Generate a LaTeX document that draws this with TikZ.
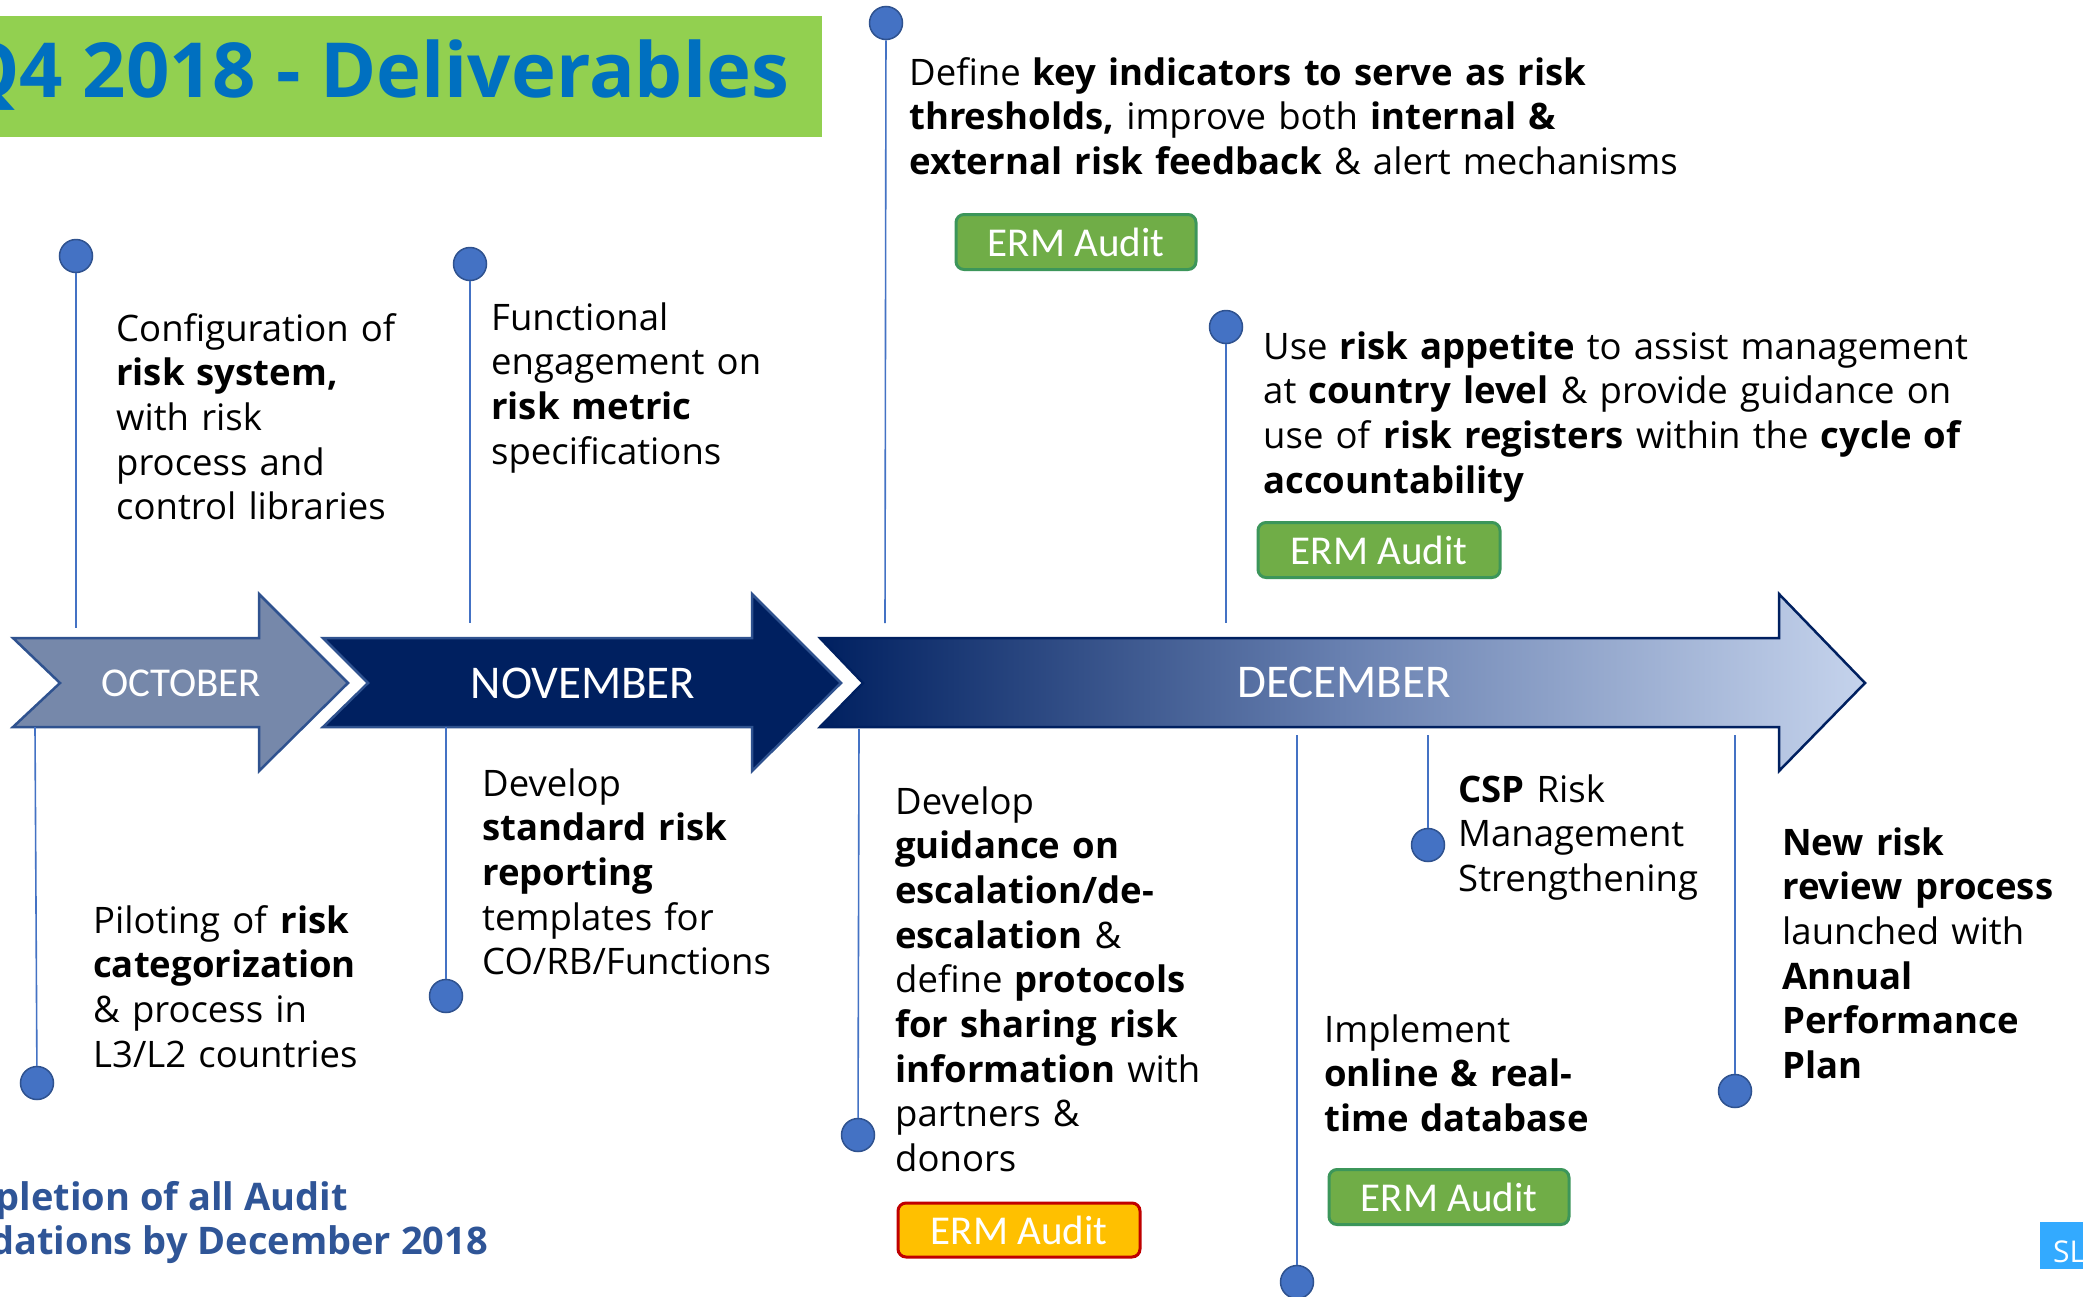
\documentclass[tikz,border=0pt]{standalone}
\usepackage{fontspec}
\setmainfont{Open Sans}
\newfontfamily\calfont{Carlito}
\definecolor{octfill}{RGB}{118,136,170}
\definecolor{navy}{RGB}{0,32,96}
\definecolor{declight}{RGB}{197,211,236}
\definecolor{decmid}{RGB}{104,128,176}
\definecolor{arrowedge}{RGB}{47,82,143}
\definecolor{dotfill}{RGB}{68,114,196}
\definecolor{dotedge}{RGB}{47,82,143}
\definecolor{ermgreen}{RGB}{112,173,71}
\definecolor{ermgreenedge}{RGB}{60,150,90}
\definecolor{ermorange}{RGB}{255,192,0}
\definecolor{ermred}{RGB}{192,0,0}
\definecolor{titlegreen}{RGB}{146,208,80}
\definecolor{titleblue}{RGB}{0,112,192}
\definecolor{notebl}{RGB}{47,85,151}
\definecolor{slblue}{RGB}{51,170,255}
\begin{document}
\begin{tikzpicture}[x=1pt,y=-1pt,
  body/.style={anchor=base west, inner sep=0pt, text width=900pt, align=left,
    font=\fontsize{36.5}{44.7}\selectfont, text=black},
  month/.style={anchor=base, inner sep=0pt, text=white},
  dot/.style={circle, fill=dotfill, draw=dotedge, line width=1.5pt, minimum size=33pt, inner sep=0pt},
  stem/.style={draw=dotfill, line width=1.6pt},
  ermbox/.style={rounded corners=8pt, line width=3pt, text=white, inner sep=0pt,
    font=\calfont\fontsize{41}{41}\selectfont},
  ermg/.style={ermbox, fill=ermgreen, draw=ermgreenedge},
  ermo/.style={ermbox, fill=ermorange, draw=ermred}]
\useasboundingbox (0,0) rectangle (2083,1296);
\fill[white] (0,0) rectangle (2083,1296);

% title
\fill[titlegreen] (0,16) rectangle (822,137);
\node[anchor=base east, inner sep=0pt, text=titleblue,
  font=\bfseries\fontsize{76}{76}\selectfont] (title) at (789,97) {Q4 2018 - Deliverables};

% arrows
\draw[fill=octfill, draw=arrowedge, line width=2.5pt, line join=miter]
  (13,638) -- (259,638) -- (259,594) -- (348,683) -- (259,771) -- (259,727) -- (13,727) -- (60,683) -- cycle;
\draw[fill=navy, draw=arrowedge, line width=2.5pt, line join=miter]
  (323,638) -- (752,638) -- (752,594) -- (841,683) -- (752,771) -- (752,727) -- (323,727) -- (368,683) -- cycle;
\draw[left color=navy, right color=declight, middle color=decmid, draw=navy, line width=2.5pt, line join=miter]
  (820,638) -- (1779,638) -- (1779,594) -- (1865,683) -- (1779,771) -- (1779,727) -- (820,727) -- (863,683) -- cycle;

\node[month, font=\calfont\fontsize{41}{41}\selectfont] (oct) at (181,696) {OCTOBER};
\node[month, font=\calfont\fontsize{47}{47}\selectfont] (nov) at (583,698) {NOVEMBER};
\node[month, font=\calfont\fontsize{47}{47}\selectfont] (dec) at (1344,697) {DECEMBER};

% stems above the arrow
\coordinate (e1) at (76,628);
\coordinate (e2) at (470,623);
\coordinate (e3) at (885,623);
\coordinate (e4) at (1226,623);
% stems below the arrow
\coordinate (s5) at (35,727);
\coordinate (s6) at (446,727);
\coordinate (s7) at (859,729);
\coordinate (s8) at (1297,735);
\coordinate (s9) at (1428,735);
\coordinate (s10) at (1735,735);

\node[dot] (d1) at (76,256) {};
\node[dot] (d2) at (470,264) {};
\node[dot] (d3) at (886,23) {};
\node[dot] (d4) at (1226,327) {};
\node[dot] (d5) at (37,1083) {};
\node[dot] (d6) at (446,996) {};
\node[dot] (d7) at (858,1135) {};
\node[dot] (d8) at (1297,1282) {};
\node[dot] (d9) at (1428,845) {};
\node[dot] (d10) at (1735,1091) {};

\draw[stem] (d1) -- (e1);
\draw[stem] (d2) -- (e2);
\draw[stem] (d3) -- (e3);
\draw[stem] (d4) -- (e4);
\draw[stem] (s5) -- (d5);
\draw[stem] (s6) -- (d6);
\draw[stem] (s7) -- (d7);
\draw[stem] (s8) -- (d8);
\draw[stem] (s9) -- (d9);
\draw[stem] (s10) -- (d10);

% texts
\node[body] (t1) at (116,341) {Configuration of\\ \textbf{risk system,}\\ with risk\\ process and\\ control libraries};
\node[body] (t2) at (491,330) {Functional\\ engagement on\\ \textbf{risk metric}\\ specifications};
\node[body] (t3) at (909,85) {Define \textbf{key indicators to serve as risk}\\ \textbf{thresholds,} improve both \textbf{internal \&}\\ \textbf{external risk feedback} \& alert mechanisms};
\node[body] (t4) at (1263,359) {Use \textbf{risk appetite} to assist management\\ at \textbf{country level} \& provide guidance on\\ use of \textbf{risk registers} within the \textbf{cycle of}\\ \textbf{accountability}};
\node[body] (t5) at (93,933) {Piloting of \textbf{risk}\\ \textbf{categorization}\\ \& process in\\ L3/L2 countries};
\node[body] (t6) at (482,796) {Develop\\ \textbf{standard risk}\\ \textbf{reporting}\\ templates for\\ CO/RB/Functions};
\node[body] (t7) at (895,814) {Develop\\ \textbf{guidance on}\\ \textbf{escalation/de-}\\ \textbf{escalation} \&\\ define \textbf{protocols}\\ \textbf{for sharing risk}\\ \textbf{information} with\\ partners \&\\ donors};
\node[body] (t8) at (1324,1042) {Implement\\ \textbf{online \& real-}\\ \textbf{time database}};
\node[body] (t9) at (1458,802) {\textbf{CSP} Risk\\ Management\\ Strengthening};
\node[body] (t10) at (1782,855) {\textbf{New risk}\\ \textbf{review process}\\ launched with\\ \textbf{Annual}\\ \textbf{Performance}\\ \textbf{Plan}};

% ERM audit tags
\node[ermg, minimum width=240pt, minimum height=55pt] (a3) at (1076,242) {ERM Audit};
\node[ermg, minimum width=242pt, minimum height=55pt] (a4) at (1379,550) {ERM Audit};
\node[ermo, minimum width=242pt, minimum height=54pt] (a7) at (1019,1230) {ERM Audit};
\node[ermg, minimum width=240pt, minimum height=55pt] (a8) at (1449,1197) {ERM Audit};

% bottom note
\node[anchor=base east, inner sep=0pt, text=notebl, font=\bfseries\fontsize{38}{38}\selectfont] (n1) at (348,1210) {Completion of all Audit};
\node[anchor=base east, inner sep=0pt, text=notebl, font=\bfseries\fontsize{38}{38}\selectfont] (n2) at (488,1254) {Recommendations by December 2018};

% SL tag
\fill[slblue] (2040,1222) rectangle (2090,1269);
\node[anchor=base west, inner sep=0pt, text=white, font=\fontsize{30}{30}\selectfont] (sl) at (2053,1262) {SL};
\end{tikzpicture}
\end{document}
